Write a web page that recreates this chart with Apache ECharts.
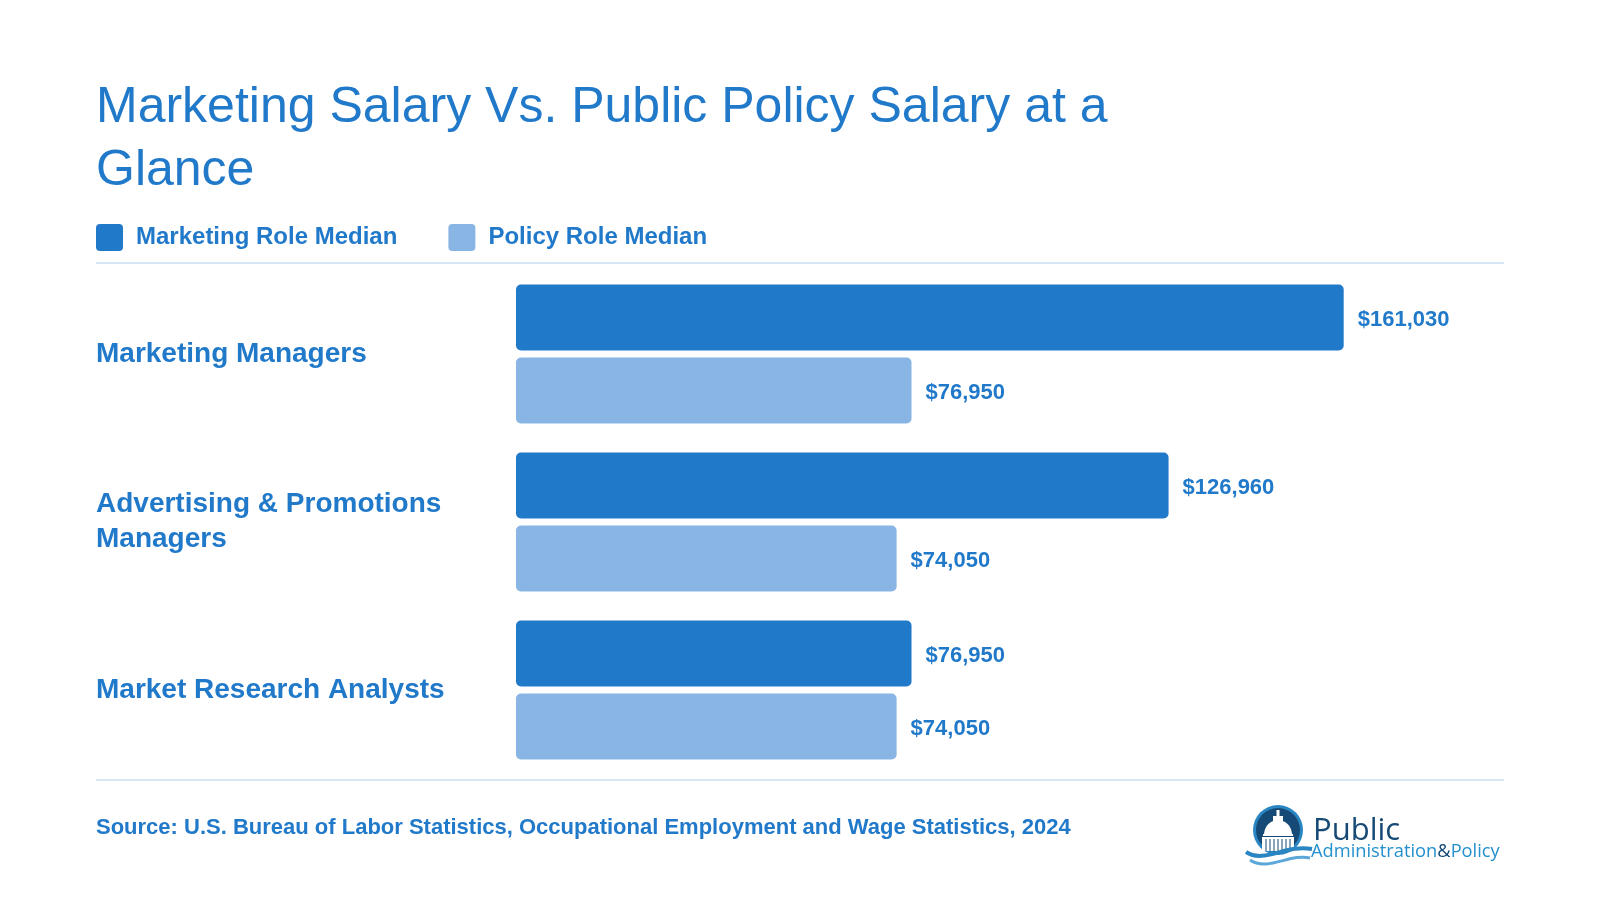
<!DOCTYPE html>
<html>
<head>
<meta charset="utf-8">
<script src="https://cdn.jsdelivr.net/npm/echarts@6/dist/echarts.min.js"></script>
<style>
html,body{margin:0;padding:0;background:#fff;}
#chart{width:1600px;height:900px;}
</style>
</head>
<body>
<div id="chart"></div>
<script>
const categories = ['Marketing Managers', 'Advertising & Promotions Managers', 'Market Research Analysts'];
const marketingMedian = [161030, 126960, 76950];
const policyMedian = [76950, 74050, 74050];
const seriesNames = ['Marketing Role Median', 'Policy Role Median'];
const titleText = 'Marketing Salary Vs. Public Policy Salary at a\nGlance';
const sourceText = 'Source: U.S. Bureau of Labor Statistics, Occupational Employment and Wage Statistics, 2024';

const DARK = '#2179ca';
const LIGHT = '#88b5e4';
const NAVY = '#164a76';
const MID = '#2a86c2';
const FONT = '"Liberation Sans", Arial, Helvetica, sans-serif';

const chart = echarts.init(document.getElementById('chart'), null, {renderer: 'canvas'});

function money(v) {
  return '$' + v.toLocaleString('en-US');
}

// dome outline points (decorative logo)
const domePts = [];
for (let i = 0; i <= 18; i++) {
  const a = Math.PI * i / 18;
  domePts.push([1278 - 14 * Math.cos(a), 835 - 15 * Math.sin(a)]);
}

const columnLines = [1266, 1270, 1274, 1278, 1282, 1286, 1290].map(x => ({
  type: 'line', shape: {x1: x, y1: 839, x2: x, y2: 851}, style: {stroke: NAVY, lineWidth: 1}
}));

const option = {
  backgroundColor: '#ffffff',
  animation: false,
  title: {
    text: titleText,
    left: 91,
    top: 72,
    textStyle: {
      color: DARK,
      fontFamily: FONT,
      fontSize: 50,
      fontWeight: 'normal',
      lineHeight: 63
    }
  },
  legend: {
    left: 96,
    top: 224,
    padding: 0,
    itemWidth: 27,
    itemHeight: 27,
    itemGap: 51,
    icon: 'path://M4,0 L23,0 Q27,0 27,4 L27,23 Q27,27 23,27 L4,27 Q0,27 0,23 L0,4 Q0,0 4,0 Z',
    data: seriesNames,
    textStyle: {
      color: DARK,
      fontFamily: FONT,
      fontSize: 24,
      fontWeight: 'bold',
      padding: [0, 0, 0, 8]
    }
  },
  grid: {
    left: 516,
    right: 56,
    top: 270,
    height: 504,
    containLabel: false
  },
  xAxis: {
    type: 'value',
    min: 0,
    max: 200000,
    show: false
  },
  yAxis: {
    type: 'category',
    data: categories,
    inverse: true,
    axisLine: {show: false},
    axisTick: {show: false},
    splitLine: {show: false},
    axisLabel: {
      align: 'left',
      margin: 420,
      color: DARK,
      fontFamily: FONT,
      fontSize: 28,
      fontWeight: 'bold',
      lineHeight: 35,
      width: 400,
      overflow: 'break',
      padding: [10, 0, 0, 0]
    }
  },
  series: [
    {
      name: seriesNames[0],
      type: 'bar',
      data: marketingMedian,
      barWidth: 66,
      barGap: '10.6%',
      itemStyle: {color: DARK, borderRadius: 5},
      label: {
        show: true,
        position: 'right',
        distance: 14,
        offset: [0, 2],
        color: DARK,
        fontFamily: FONT,
        fontSize: 22,
        fontWeight: 'bold',
        formatter: p => money(p.value)
      }
    },
    {
      name: seriesNames[1],
      type: 'bar',
      data: policyMedian,
      barWidth: 66,
      barGap: '10.6%',
      itemStyle: {color: LIGHT, borderRadius: 5},
      label: {
        show: true,
        position: 'right',
        distance: 14,
        offset: [0, 2],
        color: DARK,
        fontFamily: FONT,
        fontSize: 22,
        fontWeight: 'bold',
        formatter: p => money(p.value)
      }
    }
  ],
  graphic: [
    {
      type: 'line',
      shape: {x1: 96, y1: 263, x2: 1504, y2: 263},
      style: {stroke: '#d6e6f5', lineWidth: 2}
    },
    {
      type: 'line',
      shape: {x1: 96, y1: 780, x2: 1504, y2: 780},
      style: {stroke: '#d6e6f5', lineWidth: 2}
    },
    {
      type: 'text',
      x: 96,
      y: 828,
      style: {
        text: sourceText,
        fill: DARK,
        font: 'bold 22px ' + FONT,
        verticalAlign: 'middle'
      }
    },
    {
      type: 'group',
      children: [
        {type: 'circle', shape: {cx: 1278, cy: 830, r: 25}, style: {fill: MID}},
        {type: 'circle', shape: {cx: 1278, cy: 830, r: 22}, style: {fill: NAVY}},
        {type: 'rect', shape: {x: 1276.5, y: 810, width: 3, height: 7}, style: {fill: '#ffffff'}},
        {type: 'rect', shape: {x: 1273, y: 816, width: 10, height: 5}, style: {fill: '#ffffff'}},
        {type: 'polygon', shape: {points: domePts}, style: {fill: '#ffffff'}},
        {type: 'rect', shape: {x: 1263, y: 834, width: 30, height: 2}, style: {fill: '#ffffff'}},
        {type: 'rect', shape: {x: 1262, y: 837, width: 32, height: 14}, style: {fill: '#ffffff'}}
      ].concat(columnLines).concat([
        {type: 'bezierCurve', shape: {x1: 1246, y1: 852, cpx1: 1264, cpy1: 864, cpx2: 1286, cpy2: 844, x2: 1312, y2: 849}, style: {stroke: MID, lineWidth: 4, fill: null}},
        {type: 'bezierCurve', shape: {x1: 1250, y1: 860, cpx1: 1268, cpy1: 872, cpx2: 1290, cpy2: 853, x2: 1310, y2: 858}, style: {stroke: '#5aa7d8', lineWidth: 3, fill: null}},
        {
          type: 'text', x: 1313, y: 831,
          style: {text: 'Public', fill: NAVY, font: '31px "Open Sans", sans-serif', verticalAlign: 'middle'}
        },
        {
          type: 'text', x: 1311, y: 852,
          style: {
            text: '{a|Administration}{b|&}{a|Policy}',
            verticalAlign: 'middle',
            rich: {
              a: {fill: '#2390cf', font: '18.3px "Open Sans", sans-serif'},
              b: {fill: NAVY, font: '18.3px "Open Sans", sans-serif'}
            }
          }
        }
      ])
    }
  ]
};

chart.setOption(option);
</script>
</body>
</html>
